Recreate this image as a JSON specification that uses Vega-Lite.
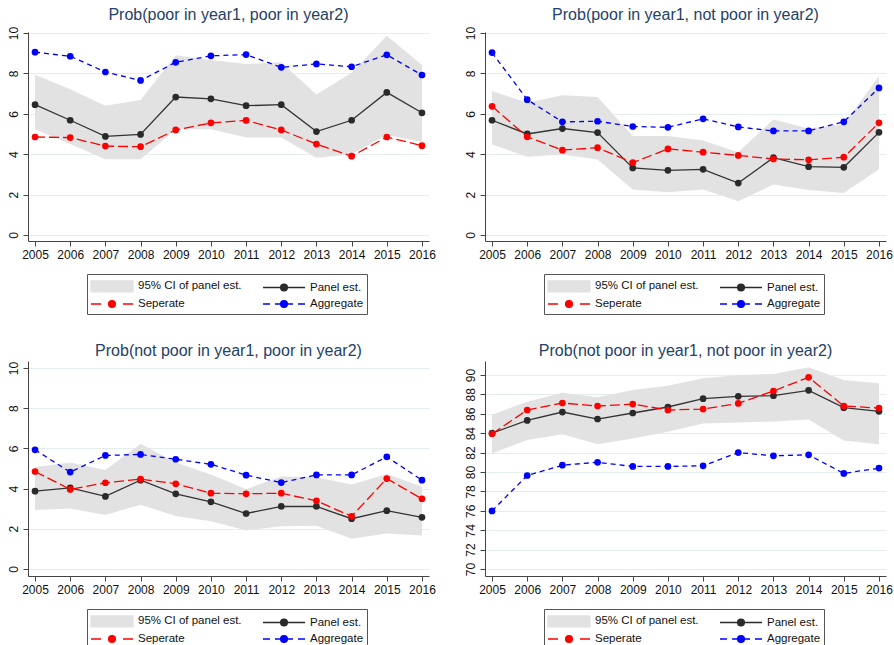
{
  "$schema": "https://vega.github.io/schema/vega-lite/v6.json",
  "padding": {"left": 6, "top": 7, "right": 5, "bottom": 0},
  "background": "white",
  "datasets": {
    "ci": [
      {"p":1,"year":2005,"lo":5.24,"hi":7.93},{"p":1,"year":2006,"lo":4.50,"hi":7.22},{"p":1,"year":2007,"lo":3.75,"hi":6.40},{"p":1,"year":2008,"lo":3.75,"hi":6.68},{"p":1,"year":2009,"lo":5.24,"hi":8.90},{"p":1,"year":2010,"lo":5.24,"hi":8.66},{"p":1,"year":2011,"lo":4.83,"hi":8.46},{"p":1,"year":2012,"lo":4.83,"hi":8.55},{"p":1,"year":2013,"lo":3.82,"hi":6.95},{"p":1,"year":2014,"lo":4.0,"hi":8.03},{"p":1,"year":2015,"lo":4.95,"hi":9.87},{"p":1,"year":2016,"lo":4.6,"hi":8.42},
      {"p":2,"year":2005,"lo":4.48,"hi":7.13},{"p":2,"year":2006,"lo":3.87,"hi":6.55},{"p":2,"year":2007,"lo":3.98,"hi":6.92},{"p":2,"year":2008,"lo":3.73,"hi":6.83},{"p":2,"year":2009,"lo":2.25,"hi":4.90},{"p":2,"year":2010,"lo":2.12,"hi":4.90},{"p":2,"year":2011,"lo":2.25,"hi":4.68},{"p":2,"year":2012,"lo":1.67,"hi":4.10},{"p":2,"year":2013,"lo":2.50,"hi":5.72},{"p":2,"year":2014,"lo":2.22,"hi":5.27},{"p":2,"year":2015,"lo":2.08,"hi":5.47},{"p":2,"year":2016,"lo":3.25,"hi":7.87},
      {"p":3,"year":2005,"lo":2.93,"hi":5.07},{"p":3,"year":2006,"lo":3.01,"hi":5.30},{"p":3,"year":2007,"lo":2.68,"hi":4.92},{"p":3,"year":2008,"lo":3.20,"hi":6.23},{"p":3,"year":2009,"lo":2.63,"hi":5.30},{"p":3,"year":2010,"lo":2.38,"hi":4.70},{"p":3,"year":2011,"lo":1.92,"hi":3.97},{"p":3,"year":2012,"lo":2.12,"hi":4.60},{"p":3,"year":2013,"lo":2.15,"hi":4.57},{"p":3,"year":2014,"lo":1.51,"hi":4.20},{"p":3,"year":2015,"lo":1.77,"hi":4.73},{"p":3,"year":2016,"lo":1.67,"hi":4.09},
      {"p":4,"year":2005,"lo":81.91,"hi":85.90},{"p":4,"year":2006,"lo":83.29,"hi":87.25},{"p":4,"year":2007,"lo":83.90,"hi":88.18},{"p":4,"year":2008,"lo":82.87,"hi":87.70},{"p":4,"year":2009,"lo":83.46,"hi":88.45},{"p":4,"year":2010,"lo":84.15,"hi":88.90},{"p":4,"year":2011,"lo":85.00,"hi":89.66},{"p":4,"year":2012,"lo":85.10,"hi":90.00},{"p":4,"year":2013,"lo":85.20,"hi":90.10},{"p":4,"year":2014,"lo":85.40,"hi":90.80},{"p":4,"year":2015,"lo":83.25,"hi":89.48},{"p":4,"year":2016,"lo":82.87,"hi":89.14}
    ],
    "lines": [
      {"p":1,"year":2005,"s":"Aggregate","v":9.05},{"p":1,"year":2006,"s":"Aggregate","v":8.85},{"p":1,"year":2007,"s":"Aggregate","v":8.07},{"p":1,"year":2008,"s":"Aggregate","v":7.65},{"p":1,"year":2009,"s":"Aggregate","v":8.55},{"p":1,"year":2010,"s":"Aggregate","v":8.87},{"p":1,"year":2011,"s":"Aggregate","v":8.93},{"p":1,"year":2012,"s":"Aggregate","v":8.30},{"p":1,"year":2013,"s":"Aggregate","v":8.47},{"p":1,"year":2014,"s":"Aggregate","v":8.33},{"p":1,"year":2015,"s":"Aggregate","v":8.92},{"p":1,"year":2016,"s":"Aggregate","v":7.92},
      {"p":1,"year":2005,"s":"Panel est.","v":6.45},{"p":1,"year":2006,"s":"Panel est.","v":5.68},{"p":1,"year":2007,"s":"Panel est.","v":4.88},{"p":1,"year":2008,"s":"Panel est.","v":4.98},{"p":1,"year":2009,"s":"Panel est.","v":6.83},{"p":1,"year":2010,"s":"Panel est.","v":6.74},{"p":1,"year":2011,"s":"Panel est.","v":6.40},{"p":1,"year":2012,"s":"Panel est.","v":6.45},{"p":1,"year":2013,"s":"Panel est.","v":5.12},{"p":1,"year":2014,"s":"Panel est.","v":5.68},{"p":1,"year":2015,"s":"Panel est.","v":7.06},{"p":1,"year":2016,"s":"Panel est.","v":6.05},
      {"p":1,"year":2005,"s":"Seperate","v":4.85},{"p":1,"year":2006,"s":"Seperate","v":4.82},{"p":1,"year":2007,"s":"Seperate","v":4.40},{"p":1,"year":2008,"s":"Seperate","v":4.37},{"p":1,"year":2009,"s":"Seperate","v":5.20},{"p":1,"year":2010,"s":"Seperate","v":5.55},{"p":1,"year":2011,"s":"Seperate","v":5.67},{"p":1,"year":2012,"s":"Seperate","v":5.20},{"p":1,"year":2013,"s":"Seperate","v":4.50},{"p":1,"year":2014,"s":"Seperate","v":3.90},{"p":1,"year":2015,"s":"Seperate","v":4.85},{"p":1,"year":2016,"s":"Seperate","v":4.42},
      {"p":2,"year":2005,"s":"Aggregate","v":9.03},{"p":2,"year":2006,"s":"Aggregate","v":6.70},{"p":2,"year":2007,"s":"Aggregate","v":5.60},{"p":2,"year":2008,"s":"Aggregate","v":5.63},{"p":2,"year":2009,"s":"Aggregate","v":5.37},{"p":2,"year":2010,"s":"Aggregate","v":5.33},{"p":2,"year":2011,"s":"Aggregate","v":5.75},{"p":2,"year":2012,"s":"Aggregate","v":5.35},{"p":2,"year":2013,"s":"Aggregate","v":5.15},{"p":2,"year":2014,"s":"Aggregate","v":5.15},{"p":2,"year":2015,"s":"Aggregate","v":5.60},{"p":2,"year":2016,"s":"Aggregate","v":7.28},
      {"p":2,"year":2005,"s":"Panel est.","v":5.68},{"p":2,"year":2006,"s":"Panel est.","v":5.00},{"p":2,"year":2007,"s":"Panel est.","v":5.27},{"p":2,"year":2008,"s":"Panel est.","v":5.07},{"p":2,"year":2009,"s":"Panel est.","v":3.32},{"p":2,"year":2010,"s":"Panel est.","v":3.20},{"p":2,"year":2011,"s":"Panel est.","v":3.25},{"p":2,"year":2012,"s":"Panel est.","v":2.57},{"p":2,"year":2013,"s":"Panel est.","v":3.83},{"p":2,"year":2014,"s":"Panel est.","v":3.38},{"p":2,"year":2015,"s":"Panel est.","v":3.35},{"p":2,"year":2016,"s":"Panel est.","v":5.08},
      {"p":2,"year":2005,"s":"Seperate","v":6.37},{"p":2,"year":2006,"s":"Seperate","v":4.86},{"p":2,"year":2007,"s":"Seperate","v":4.20},{"p":2,"year":2008,"s":"Seperate","v":4.32},{"p":2,"year":2009,"s":"Seperate","v":3.58},{"p":2,"year":2010,"s":"Seperate","v":4.26},{"p":2,"year":2011,"s":"Seperate","v":4.10},{"p":2,"year":2012,"s":"Seperate","v":3.94},{"p":2,"year":2013,"s":"Seperate","v":3.76},{"p":2,"year":2014,"s":"Seperate","v":3.72},{"p":2,"year":2015,"s":"Seperate","v":3.85},{"p":2,"year":2016,"s":"Seperate","v":5.55},
      {"p":3,"year":2005,"s":"Aggregate","v":5.93},{"p":3,"year":2006,"s":"Aggregate","v":4.82},{"p":3,"year":2007,"s":"Aggregate","v":5.65},{"p":3,"year":2008,"s":"Aggregate","v":5.70},{"p":3,"year":2009,"s":"Aggregate","v":5.46},{"p":3,"year":2010,"s":"Aggregate","v":5.21},{"p":3,"year":2011,"s":"Aggregate","v":4.67},{"p":3,"year":2012,"s":"Aggregate","v":4.30},{"p":3,"year":2013,"s":"Aggregate","v":4.68},{"p":3,"year":2014,"s":"Aggregate","v":4.68},{"p":3,"year":2015,"s":"Aggregate","v":5.58},{"p":3,"year":2016,"s":"Aggregate","v":4.42},
      {"p":3,"year":2005,"s":"Panel est.","v":3.87},{"p":3,"year":2006,"s":"Panel est.","v":4.04},{"p":3,"year":2007,"s":"Panel est.","v":3.61},{"p":3,"year":2008,"s":"Panel est.","v":4.42},{"p":3,"year":2009,"s":"Panel est.","v":3.74},{"p":3,"year":2010,"s":"Panel est.","v":3.34},{"p":3,"year":2011,"s":"Panel est.","v":2.76},{"p":3,"year":2012,"s":"Panel est.","v":3.11},{"p":3,"year":2013,"s":"Panel est.","v":3.11},{"p":3,"year":2014,"s":"Panel est.","v":2.50},{"p":3,"year":2015,"s":"Panel est.","v":2.90},{"p":3,"year":2016,"s":"Panel est.","v":2.57},
      {"p":3,"year":2005,"s":"Seperate","v":4.85},{"p":3,"year":2006,"s":"Seperate","v":3.96},{"p":3,"year":2007,"s":"Seperate","v":4.29},{"p":3,"year":2008,"s":"Seperate","v":4.47},{"p":3,"year":2009,"s":"Seperate","v":4.24},{"p":3,"year":2010,"s":"Seperate","v":3.77},{"p":3,"year":2011,"s":"Seperate","v":3.74},{"p":3,"year":2012,"s":"Seperate","v":3.77},{"p":3,"year":2013,"s":"Seperate","v":3.39},{"p":3,"year":2014,"s":"Seperate","v":2.62},{"p":3,"year":2015,"s":"Seperate","v":4.50},{"p":3,"year":2016,"s":"Seperate","v":3.49},
      {"p":4,"year":2005,"s":"Aggregate","v":75.99},{"p":4,"year":2006,"s":"Aggregate","v":79.64},{"p":4,"year":2007,"s":"Aggregate","v":80.70},{"p":4,"year":2008,"s":"Aggregate","v":81.00},{"p":4,"year":2009,"s":"Aggregate","v":80.57},{"p":4,"year":2010,"s":"Aggregate","v":80.57},{"p":4,"year":2011,"s":"Aggregate","v":80.64},{"p":4,"year":2012,"s":"Aggregate","v":82.00},{"p":4,"year":2013,"s":"Aggregate","v":81.67},{"p":4,"year":2014,"s":"Aggregate","v":81.77},{"p":4,"year":2015,"s":"Aggregate","v":79.85},{"p":4,"year":2016,"s":"Aggregate","v":80.40},
      {"p":4,"year":2005,"s":"Panel est.","v":84.00},{"p":4,"year":2006,"s":"Panel est.","v":85.32},{"p":4,"year":2007,"s":"Panel est.","v":86.18},{"p":4,"year":2008,"s":"Panel est.","v":85.46},{"p":4,"year":2009,"s":"Panel est.","v":86.08},{"p":4,"year":2010,"s":"Panel est.","v":86.70},{"p":4,"year":2011,"s":"Panel est.","v":87.56},{"p":4,"year":2012,"s":"Panel est.","v":87.80},{"p":4,"year":2013,"s":"Panel est.","v":87.87},{"p":4,"year":2014,"s":"Panel est.","v":88.42},{"p":4,"year":2015,"s":"Panel est.","v":86.63},{"p":4,"year":2016,"s":"Panel est.","v":86.25},
      {"p":4,"year":2005,"s":"Seperate","v":83.94},{"p":4,"year":2006,"s":"Seperate","v":86.39},{"p":4,"year":2007,"s":"Seperate","v":87.11},{"p":4,"year":2008,"s":"Seperate","v":86.80},{"p":4,"year":2009,"s":"Seperate","v":87.00},{"p":4,"year":2010,"s":"Seperate","v":86.39},{"p":4,"year":2011,"s":"Seperate","v":86.49},{"p":4,"year":2012,"s":"Seperate","v":87.07},{"p":4,"year":2013,"s":"Seperate","v":88.35},{"p":4,"year":2014,"s":"Seperate","v":89.76},{"p":4,"year":2015,"s":"Seperate","v":86.80},{"p":4,"year":2016,"s":"Seperate","v":86.59}
    ]
  },
  "columns": 2,
  "spacing": {"row": 120, "column": 56},
  "bounds": "flush",
  "resolve": {"scale": {"x": "independent", "y": "independent", "fill": "independent", "stroke": "independent", "shape": "independent"}},
  "concat": [
    {
      "width": 401, "height": 209,
      "title": {"text": "Prob(poor in year1, poor in year2)", "offset": 3},
      "layer": [
        {"data": {"name": "ci"}, "transform": [{"filter": "datum.p == 1"}], "mark": {"type": "area", "color": "#e2e2e2"},
         "encoding": {"x": {"field": "year", "type": "quantitative", "scale": {"domain": [2004.8, 2016.2], "nice": false, "zero": false}, "axis": {"values": [2005,2006,2007,2008,2009,2010,2011,2012,2013,2014,2015,2016], "tickCount": 30, "format": "d", "title": null, "labelOverlap": false, "labelFlush": false}},
                      "y": {"field": "lo", "type": "quantitative", "scale": {"domain": [-0.3, 10.05], "nice": false, "zero": false}, "axis": {"values": [0,2,4,6,8,10], "tickCount": 30, "format": "d", "title": null, "labelOverlap": false}},
                      "y2": {"field": "hi"}}},
        {"data": {"name": "lines"}, "transform": [{"filter": "datum.p == 1 && datum.s == 'Panel est.'"}], "mark": {"type": "line", "color": "#333333", "strokeWidth": 1.3, "point": {"filled": true, "size": 45, "color": "#2a2a2a", "opacity": 1}},
         "encoding": {"x": {"field": "year", "type": "quantitative"}, "y": {"field": "v", "type": "quantitative"}}},
        {"data": {"name": "lines"}, "transform": [{"filter": "datum.p == 1 && datum.s == 'Seperate'"}], "mark": {"type": "line", "color": "#ff0000", "strokeWidth": 1.3, "strokeDash": [10, 4], "point": {"filled": true, "size": 45, "color": "#ff0000", "opacity": 1}},
         "encoding": {"x": {"field": "year", "type": "quantitative"}, "y": {"field": "v", "type": "quantitative"}}},
        {"data": {"name": "lines"}, "transform": [{"filter": "datum.p == 1 && datum.s == 'Aggregate'"}], "mark": {"type": "line", "color": "#0000ff", "strokeWidth": 1.3, "strokeDash": [5, 4], "point": {"filled": true, "size": 45, "color": "#0000ff", "opacity": 1}},
         "encoding": {"x": {"field": "year", "type": "quantitative"}, "y": {"field": "v", "type": "quantitative"}}},
        {"data": {"name": "lines"}, "transform": [{"filter": "false"}], "mark": {"type": "point", "filled": true, "opacity": 1, "size": 256, "strokeWidth": 1.3},
         "encoding": {
           "fill": {"field": "s", "type": "nominal", "scale": {"domain": ["95% CI of panel est.", "Panel est.", "Seperate", "Aggregate"], "range": ["#e2e2e2", "#2a2a2a", "#ff0000", "#0000ff"]}, "legend": {"legendX": 59, "legendY": 242}},
           "stroke": {"field": "s", "type": "nominal", "scale": {"domain": ["95% CI of panel est.", "Panel est.", "Seperate", "Aggregate"], "range": ["#e2e2e2", "#2a2a2a", "#ff0000", "#0000ff"]}, "legend": {"legendX": 59, "legendY": 242}},
           "shape": {"field": "s", "type": "nominal", "scale": {"domain": ["95% CI of panel est.", "Panel est.", "Seperate", "Aggregate"], "range": ["M-1,-0.69H4.25V0.69H-1Z", "M-1,0H4.25M1.2,0A0.425,0.425 0 1,0 2.05,0A0.425,0.425 0 1,0 1.2,0", "M-1,0H0.25M3,0H4.25M1.2,0A0.425,0.425 0 1,0 2.05,0A0.425,0.425 0 1,0 1.2,0", "M-1,0H-0.125M0.5,0H1.19M2.06,0H2.75M3.375,0H4.25M1.2,0A0.425,0.425 0 1,0 2.05,0A0.425,0.425 0 1,0 1.2,0"]}, "legend": {"legendX": 59, "legendY": 242}}
         }}
      ]
    },
    {
      "width": 401, "height": 209,
      "title": {"text": "Prob(poor in year1, not poor in year2)", "offset": 3},
      "layer": [
        {"data": {"name": "ci"}, "transform": [{"filter": "datum.p == 2"}], "mark": {"type": "area", "color": "#e2e2e2"},
         "encoding": {"x": {"field": "year", "type": "quantitative", "scale": {"domain": [2004.8, 2016.2], "nice": false, "zero": false}, "axis": {"values": [2005,2006,2007,2008,2009,2010,2011,2012,2013,2014,2015,2016], "tickCount": 30, "format": "d", "title": null, "labelOverlap": false, "labelFlush": false}},
                      "y": {"field": "lo", "type": "quantitative", "scale": {"domain": [-0.3, 10.05], "nice": false, "zero": false}, "axis": {"values": [0,2,4,6,8,10], "tickCount": 30, "format": "d", "title": null, "labelOverlap": false}},
                      "y2": {"field": "hi"}}},
        {"data": {"name": "lines"}, "transform": [{"filter": "datum.p == 2 && datum.s == 'Panel est.'"}], "mark": {"type": "line", "color": "#333333", "strokeWidth": 1.3, "point": {"filled": true, "size": 45, "color": "#2a2a2a", "opacity": 1}},
         "encoding": {"x": {"field": "year", "type": "quantitative"}, "y": {"field": "v", "type": "quantitative"}}},
        {"data": {"name": "lines"}, "transform": [{"filter": "datum.p == 2 && datum.s == 'Seperate'"}], "mark": {"type": "line", "color": "#ff0000", "strokeWidth": 1.3, "strokeDash": [10, 4], "point": {"filled": true, "size": 45, "color": "#ff0000", "opacity": 1}},
         "encoding": {"x": {"field": "year", "type": "quantitative"}, "y": {"field": "v", "type": "quantitative"}}},
        {"data": {"name": "lines"}, "transform": [{"filter": "datum.p == 2 && datum.s == 'Aggregate'"}], "mark": {"type": "line", "color": "#0000ff", "strokeWidth": 1.3, "strokeDash": [5, 4], "point": {"filled": true, "size": 45, "color": "#0000ff", "opacity": 1}},
         "encoding": {"x": {"field": "year", "type": "quantitative"}, "y": {"field": "v", "type": "quantitative"}}},
        {"data": {"name": "lines"}, "transform": [{"filter": "false"}], "mark": {"type": "point", "filled": true, "opacity": 1, "size": 256, "strokeWidth": 1.3},
         "encoding": {
           "fill": {"field": "s", "type": "nominal", "scale": {"domain": ["95% CI of panel est.", "Panel est.", "Seperate", "Aggregate"], "range": ["#e2e2e2", "#2a2a2a", "#ff0000", "#0000ff"]}, "legend": {"legendX": 59, "legendY": 242}},
           "stroke": {"field": "s", "type": "nominal", "scale": {"domain": ["95% CI of panel est.", "Panel est.", "Seperate", "Aggregate"], "range": ["#e2e2e2", "#2a2a2a", "#ff0000", "#0000ff"]}, "legend": {"legendX": 59, "legendY": 242}},
           "shape": {"field": "s", "type": "nominal", "scale": {"domain": ["95% CI of panel est.", "Panel est.", "Seperate", "Aggregate"], "range": ["M-1,-0.69H4.25V0.69H-1Z", "M-1,0H4.25M1.2,0A0.425,0.425 0 1,0 2.05,0A0.425,0.425 0 1,0 1.2,0", "M-1,0H0.25M3,0H4.25M1.2,0A0.425,0.425 0 1,0 2.05,0A0.425,0.425 0 1,0 1.2,0", "M-1,0H-0.125M0.5,0H1.19M2.06,0H2.75M3.375,0H4.25M1.2,0A0.425,0.425 0 1,0 2.05,0A0.425,0.425 0 1,0 1.2,0"]}, "legend": {"legendX": 59, "legendY": 242}}
         }}
      ]
    },
    {
      "width": 401, "height": 215,
      "title": {"text": "Prob(not poor in year1, poor in year2)", "offset": 2},
      "layer": [
        {"data": {"name": "ci"}, "transform": [{"filter": "datum.p == 3"}], "mark": {"type": "area", "color": "#e2e2e2"},
         "encoding": {"x": {"field": "year", "type": "quantitative", "scale": {"domain": [2004.8, 2016.2], "nice": false, "zero": false}, "axis": {"values": [2005,2006,2007,2008,2009,2010,2011,2012,2013,2014,2015,2016], "tickCount": 30, "format": "d", "title": null, "labelOverlap": false, "labelFlush": false}},
                      "y": {"field": "lo", "type": "quantitative", "scale": {"domain": [-0.35, 10.35], "nice": false, "zero": false}, "axis": {"values": [0,2,4,6,8,10], "tickCount": 30, "format": "d", "title": null, "labelOverlap": false}},
                      "y2": {"field": "hi"}}},
        {"data": {"name": "lines"}, "transform": [{"filter": "datum.p == 3 && datum.s == 'Panel est.'"}], "mark": {"type": "line", "color": "#333333", "strokeWidth": 1.3, "point": {"filled": true, "size": 45, "color": "#2a2a2a", "opacity": 1}},
         "encoding": {"x": {"field": "year", "type": "quantitative"}, "y": {"field": "v", "type": "quantitative"}}},
        {"data": {"name": "lines"}, "transform": [{"filter": "datum.p == 3 && datum.s == 'Seperate'"}], "mark": {"type": "line", "color": "#ff0000", "strokeWidth": 1.3, "strokeDash": [10, 4], "point": {"filled": true, "size": 45, "color": "#ff0000", "opacity": 1}},
         "encoding": {"x": {"field": "year", "type": "quantitative"}, "y": {"field": "v", "type": "quantitative"}}},
        {"data": {"name": "lines"}, "transform": [{"filter": "datum.p == 3 && datum.s == 'Aggregate'"}], "mark": {"type": "line", "color": "#0000ff", "strokeWidth": 1.3, "strokeDash": [5, 4], "point": {"filled": true, "size": 45, "color": "#0000ff", "opacity": 1}},
         "encoding": {"x": {"field": "year", "type": "quantitative"}, "y": {"field": "v", "type": "quantitative"}}},
        {"data": {"name": "lines"}, "transform": [{"filter": "false"}], "mark": {"type": "point", "filled": true, "opacity": 1, "size": 256, "strokeWidth": 1.3},
         "encoding": {
           "fill": {"field": "s", "type": "nominal", "scale": {"domain": ["95% CI of panel est.", "Panel est.", "Seperate", "Aggregate"], "range": ["#e2e2e2", "#2a2a2a", "#ff0000", "#0000ff"]}, "legend": {"legendX": 59, "legendY": 248}},
           "stroke": {"field": "s", "type": "nominal", "scale": {"domain": ["95% CI of panel est.", "Panel est.", "Seperate", "Aggregate"], "range": ["#e2e2e2", "#2a2a2a", "#ff0000", "#0000ff"]}, "legend": {"legendX": 59, "legendY": 248}},
           "shape": {"field": "s", "type": "nominal", "scale": {"domain": ["95% CI of panel est.", "Panel est.", "Seperate", "Aggregate"], "range": ["M-1,-0.69H4.25V0.69H-1Z", "M-1,0H4.25M1.2,0A0.425,0.425 0 1,0 2.05,0A0.425,0.425 0 1,0 1.2,0", "M-1,0H0.25M3,0H4.25M1.2,0A0.425,0.425 0 1,0 2.05,0A0.425,0.425 0 1,0 1.2,0", "M-1,0H-0.125M0.5,0H1.19M2.06,0H2.75M3.375,0H4.25M1.2,0A0.425,0.425 0 1,0 2.05,0A0.425,0.425 0 1,0 1.2,0"]}, "legend": {"legendX": 59, "legendY": 248}}
         }}
      ]
    },
    {
      "width": 401, "height": 215,
      "title": {"text": "Prob(not poor in year1, not poor in year2)", "offset": 2},
      "layer": [
        {"data": {"name": "ci"}, "transform": [{"filter": "datum.p == 4"}], "mark": {"type": "area", "color": "#e2e2e2"},
         "encoding": {"x": {"field": "year", "type": "quantitative", "scale": {"domain": [2004.8, 2016.2], "nice": false, "zero": false}, "axis": {"values": [2005,2006,2007,2008,2009,2010,2011,2012,2013,2014,2015,2016], "tickCount": 30, "format": "d", "title": null, "labelOverlap": false, "labelFlush": false}},
                      "y": {"field": "lo", "type": "quantitative", "scale": {"domain": [69.28, 91.44], "nice": false, "zero": false}, "axis": {"values": [70,72,74,76,78,80,82,84,86,88,90], "tickCount": 30, "format": "d", "title": null, "labelOverlap": false}},
                      "y2": {"field": "hi"}}},
        {"data": {"name": "lines"}, "transform": [{"filter": "datum.p == 4 && datum.s == 'Panel est.'"}], "mark": {"type": "line", "color": "#333333", "strokeWidth": 1.3, "point": {"filled": true, "size": 45, "color": "#2a2a2a", "opacity": 1}},
         "encoding": {"x": {"field": "year", "type": "quantitative"}, "y": {"field": "v", "type": "quantitative"}}},
        {"data": {"name": "lines"}, "transform": [{"filter": "datum.p == 4 && datum.s == 'Seperate'"}], "mark": {"type": "line", "color": "#ff0000", "strokeWidth": 1.3, "strokeDash": [10, 4], "point": {"filled": true, "size": 45, "color": "#ff0000", "opacity": 1}},
         "encoding": {"x": {"field": "year", "type": "quantitative"}, "y": {"field": "v", "type": "quantitative"}}},
        {"data": {"name": "lines"}, "transform": [{"filter": "datum.p == 4 && datum.s == 'Aggregate'"}], "mark": {"type": "line", "color": "#0000ff", "strokeWidth": 1.3, "strokeDash": [5, 4], "point": {"filled": true, "size": 45, "color": "#0000ff", "opacity": 1}},
         "encoding": {"x": {"field": "year", "type": "quantitative"}, "y": {"field": "v", "type": "quantitative"}}},
        {"data": {"name": "lines"}, "transform": [{"filter": "false"}], "mark": {"type": "point", "filled": true, "opacity": 1, "size": 256, "strokeWidth": 1.3},
         "encoding": {
           "fill": {"field": "s", "type": "nominal", "scale": {"domain": ["95% CI of panel est.", "Panel est.", "Seperate", "Aggregate"], "range": ["#e2e2e2", "#2a2a2a", "#ff0000", "#0000ff"]}, "legend": {"legendX": 59, "legendY": 248}},
           "stroke": {"field": "s", "type": "nominal", "scale": {"domain": ["95% CI of panel est.", "Panel est.", "Seperate", "Aggregate"], "range": ["#e2e2e2", "#2a2a2a", "#ff0000", "#0000ff"]}, "legend": {"legendX": 59, "legendY": 248}},
           "shape": {"field": "s", "type": "nominal", "scale": {"domain": ["95% CI of panel est.", "Panel est.", "Seperate", "Aggregate"], "range": ["M-1,-0.69H4.25V0.69H-1Z", "M-1,0H4.25M1.2,0A0.425,0.425 0 1,0 2.05,0A0.425,0.425 0 1,0 1.2,0", "M-1,0H0.25M3,0H4.25M1.2,0A0.425,0.425 0 1,0 2.05,0A0.425,0.425 0 1,0 1.2,0", "M-1,0H-0.125M0.5,0H1.19M2.06,0H2.75M3.375,0H4.25M1.2,0A0.425,0.425 0 1,0 2.05,0A0.425,0.425 0 1,0 1.2,0"]}, "legend": {"legendX": 59, "legendY": 248}}
         }}
      ]
    }
  ],
  "config": {
    "view": {"stroke": null},
    "font": "Liberation Sans",
    "axis": {"labelFont": "Liberation Sans", "labelFontSize": 12, "labelColor": "#111111", "domainColor": "#444444", "tickColor": "#444444", "tickSize": 5, "labelPadding": 3, "gridColor": "#e4edf0", "domainWidth": 1},
    "axisX": {"grid": false},
    "axisY": {"grid": true, "labelAngle": 270},
    "title": {"font": "Liberation Sans", "fontSize": 16, "fontWeight": "normal", "color": "#243f68", "frame": "group"},
    "legend": {"orient": "none", "direction": "horizontal", "columns": 2, "title": null, "symbolSize": 256, "symbolStrokeWidth": 1.3, "labelFont": "Liberation Sans", "labelFontSize": 11.5, "labelColor": "#111111", "labelOffset": 30, "columnPadding": 18, "rowPadding": 0, "padding": 3, "strokeColor": "#555555", "fillColor": "#ffffff", "labelLimit": 300, "symbolOpacity": 1}
  }
}
